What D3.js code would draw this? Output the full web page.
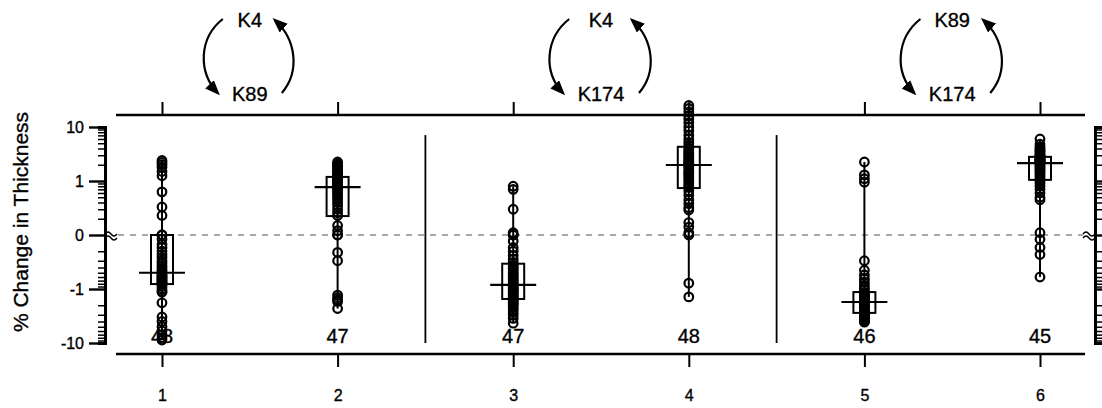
<!DOCTYPE html>
<html>
<head>
<meta charset="utf-8">
<script src="https://d3js.org/d3.v7.min.js"></script>
<style>
  body { margin: 0; background: #fff; }
  svg text { font-family: "Liberation Sans", Arial, Helvetica, sans-serif; fill: #000;
             stroke: #000; stroke-width: 0.35px; }
</style>
</head>
<body>
<div id="chart"></div>
<script>
// groups along the x axis and n per group
const groups = [1, 2, 3, 4, 5, 6];
const counts = [48, 47, 47, 48, 46, 45];

// % change in thickness
const g1 = [2.4, 2.2, 2.0, 1.8, 1.5, 1.25, 0.63, 0.33, 0.23, 0.1, 0.05, 0,
  -0.12, -0.15, -0.17, -0.2, -0.23, -0.26, -0.3, -0.33, -0.37, -0.41, -0.45, -0.48,
  -0.52, -0.55, -0.58, -0.6, -0.63, -0.66, -0.69, -0.72, -0.75, -0.78, -0.8, -0.82,
  -0.9, -1.0, -1.1, -1.15, -1.8, -3.3, -4.0, -5.0, -6.0, -7.0, -8.0, -8.8];
const g2 = [2.25, 2.1, 2.0, 1.9, 1.8, 1.7, 1.6, 1.5, 1.4, 1.35, 1.3, 1.22,
  1.15, 1.1, 1.05, 1.0, 0.97, 0.94, 0.9, 0.87, 0.84, 0.82, 0.8, 0.78,
  0.74, 0.7, 0.65, 0.6, 0.55, 0.5, 0.45, 0.4, 0.35, 0.3, 0.26, 0.23,
  0.15, 0.12, 0.1, 0.05, -0.21, -0.3, -1.3, -1.45, -1.6, -1.7, -2.3];
const g3 = [0.8, 0.7, 0.3, 0.11, 0.06, 0, -0.13, -0.17, -0.2, -0.24, -0.28, -0.32,
  -0.36, -0.39, -0.42, -0.46, -0.5, -0.54, -0.58, -0.62, -0.67, -0.72, -0.77, -0.82,
  -0.86, -0.9, -0.95, -1.0, -1.05, -1.1, -1.15, -1.22, -1.3, -1.38, -1.45, -1.5,
  -1.6, -1.7, -1.8, -1.9, -2.0, -2.2, -2.4, -2.7, -3.0, -3.5, -4.3];
const g4 = [25, 22, 19, 16, 14, 12, 10, 8.5, 7, 6, 5.2, 4.6,
  4.0, 3.7, 3.4, 3.2, 3.0, 2.8, 2.6, 2.45, 2.3, 2.2, 2.1, 2.0,
  1.9, 1.8, 1.65, 1.5, 1.4, 1.3, 1.2, 1.1, 1.0, 0.9, 0.82, 0.76,
  0.65, 0.55, 0.45, 0.38, 0.32, 0.29, 0.17, 0.14, 0.11, 0.1, -0.78, -1.4];
const g5 = [2.25, 1.3, 1.1, 0.95, -0.3, -0.45, -0.55, -0.65, -0.75, -0.85, -0.95, -1.05,
  -1.18, -1.22, -1.27, -1.32, -1.37, -1.42, -1.48, -1.54, -1.6, -1.66, -1.72,
  -1.8, -1.88, -1.95, -2.02, -2.1, -2.2, -2.3, -2.4, -2.5, -2.6, -2.7,
  -2.85, -2.95, -3.05, -3.15, -3.25, -3.35, -3.45, -3.55, -3.7, -3.85, -4.0, -4.1];
const g6 = [6.0, 4.8, 4.3, 4.0, 3.8, 3.6, 3.4, 3.2, 3.05, 2.95, 2.85,
  2.75, 2.7, 2.62, 2.55, 2.5, 2.45, 2.4, 2.35, 2.3, 2.25, 2.2,
  2.1, 2.0, 1.9, 1.8, 1.7, 1.6, 1.5, 1.4, 1.3, 1.2, 1.1,
  1.0, 0.9, 0.8, 0.7, 0.6, 0.5, 0.45, 0.11, -0.12, -0.17, -0.23, -0.6];
const groupValues = [g1, g2, g3, g4, g5, g6];

// box stats
const q3s = [0.1, 1.19, -0.34, 4.3, -1.14, 2.8];
const medians = [-0.5, 0.77, -0.84, 1.98, -1.74, 2.15];
const q1s = [-0.81, 0.224, -1.53, 0.74, -2.77, 1.05];

// y axis: broken log axis, 0 stands for |v| <= 0.1
const yTickValues = [-10, -1, 0, 1, 10];
const yTickLabels = ["-10", "-1", "0", "1", "10"];

// exchange annotations above each pair
const pairTop = ["K4", "K4", "K89"];
const pairBottom = ["K89", "K174", "K174"];

const W = 1102, H = 408;
const svg = d3.select("#chart").append("svg")
    .attr("width", W).attr("height", H);

const x = d3.scaleLinear().domain([1, 6]).range([162, 1040]);
const yLin = d3.scaleLinear().domain([-2, 2]).range([343, 127]);
// value -> transformed units (decades, 0.1 collapses onto 0)
const tf = v => {
    if (v === 0) return 0;
    const t = Math.log10(Math.abs(v)) + 1;
    return Math.sign(v) * Math.max(0, t);
};
const y = v => yLin(tf(v));

const frameTop = 115, frameBottom = 354, frameLeft = 116, frameRight = 1085;
const axisL = 105, axisR = 1095;

// minor ticks (log) for both sides of zero
const minor = [];
[0.1, 1].forEach(dec => {
    for (let k = 2; k <= 9; k++) { minor.push(k * dec); minor.push(-k * dec); }
});

// ---- left axis
const gL = svg.append("g").attr("transform", `translate(${axisL},0)`);
gL.call(d3.axisLeft(yLin).tickSizeOuter(0).tickSize(7)
        .tickValues(minor.map(tf)).tickFormat(""))
    .call(g => g.select(".domain").attr("stroke-width", 3))
    .call(g => g.selectAll(".tick line").attr("stroke-width", 1.5));
gL.append("g")
    .call(d3.axisLeft(yLin).tickSizeOuter(0).tickSize(16).tickPadding(5)
        .tickValues(yTickValues.map(tf))
        .tickFormat((d, i) => yTickLabels[i]))
    .call(g => g.select(".domain").remove())
    .call(g => g.selectAll(".tick line").attr("stroke-width", 2.4))
    .call(g => g.selectAll(".tick text").style("font-size", "16px"));

// ---- right axis (mirrored, runs off the edge)
const gR = svg.append("g").attr("transform", `translate(${axisR},0)`);
gR.call(d3.axisRight(yLin).tickSizeOuter(0).tickSize(7)
        .tickValues(minor.map(tf)).tickFormat(""))
    .call(g => g.select(".domain").attr("stroke-width", 3))
    .call(g => g.selectAll(".tick line").attr("stroke-width", 1.5));
gR.append("g")
    .call(d3.axisRight(yLin).tickSizeOuter(0).tickSize(16)
        .tickValues(yTickValues.map(tf)).tickFormat(""))
    .call(g => g.select(".domain").remove())
    .call(g => g.selectAll(".tick line").attr("stroke-width", 2.4));

// break marks at 0
function breakMark(cx) {
    const cy = yLin(0);
    [-2, 2].forEach(o => {
        svg.append("path")
            .attr("d", `M${cx - 6},${cy + o + 1} q3,-4 6,0 t6,0`)
            .attr("fill", "none").attr("stroke", "#000").attr("stroke-width", 1.4);
    });
}
breakMark(axisL + 6);
breakMark(axisR - 6);

// ---- frame lines top & bottom with group ticks
svg.append("line").attr("x1", frameLeft).attr("x2", frameRight)
    .attr("y1", frameTop).attr("y2", frameTop)
    .attr("stroke", "#000").attr("stroke-width", 2.6);
svg.append("line").attr("x1", frameLeft).attr("x2", frameRight)
    .attr("y1", frameBottom).attr("y2", frameBottom)
    .attr("stroke", "#000").attr("stroke-width", 2.6);

svg.append("g").attr("transform", `translate(0,${frameTop})`)
    .call(d3.axisTop(x).tickValues(groups).tickSize(13).tickFormat(""))
    .call(g => g.select(".domain").remove())
    .call(g => g.selectAll(".tick line").attr("stroke-width", 2));

svg.append("g").attr("transform", `translate(0,${frameBottom})`)
    .call(d3.axisBottom(x).tickValues(groups).tickSize(13).tickPadding(23)
        .tickFormat(d3.format("d")))
    .call(g => g.select(".domain").remove())
    .call(g => g.selectAll(".tick line").attr("stroke-width", 2))
    .call(g => g.selectAll(".tick text").style("font-size", "16px"));

// separators between pairs
[2.5, 4.5].forEach(s => {
    svg.append("line").attr("x1", x(s)).attr("x2", x(s))
        .attr("y1", yLin(1.85)).attr("y2", yLin(-2))
        .attr("stroke", "#000").attr("stroke-width", 1.8);
});

// zero reference
svg.append("line").attr("x1", frameLeft + 2).attr("x2", axisR - 12)
    .attr("y1", yLin(0)).attr("y2", yLin(0))
    .attr("stroke", "#555").attr("stroke-width", 1)
    .attr("stroke-dasharray", "6,6");

// y title
svg.append("text")
    .attr("transform", `translate(28,222) rotate(-90)`)
    .attr("text-anchor", "middle")
    .style("font-size", "21px")
    .text("% Change in Thickness");

// ---- boxes and points
groups.forEach((g, i) => {
    const vals = groupValues[i];
    const cx = x(g);
    const grp = svg.append("g");
    const ext = d3.extent(vals);
    grp.append("line").attr("x1", cx).attr("x2", cx)
        .attr("y1", y(ext[0])).attr("y2", y(ext[1]))
        .attr("stroke", "#000").attr("stroke-width", 2);
    grp.append("rect")
        .attr("x", cx - 11).attr("width", 22)
        .attr("y", y(q3s[i])).attr("height", y(q1s[i]) - y(q3s[i]))
        .attr("fill", "none").attr("stroke", "#000").attr("stroke-width", 2);
    grp.selectAll("circle").data(vals).join("circle")
        .attr("cx", cx).attr("cy", d => y(d)).attr("r", 4.3)
        .attr("fill", "none").attr("stroke", "#000").attr("stroke-width", 2.2);
    grp.append("line").attr("x1", cx - 23).attr("x2", cx + 23)
        .attr("y1", y(medians[i])).attr("y2", y(medians[i]))
        .attr("stroke", "#000").attr("stroke-width", 2.2);
    svg.append("text")
        .attr("x", cx).attr("y", 343)
        .attr("text-anchor", "middle")
        .style("font-size", "20px")
        .text(counts[i]);
});

// ---- exchange annotations
const defs = svg.append("defs");
defs.append("marker").attr("id", "ah")
    .attr("viewBox", "0 -6 15 12").attr("refX", 12).attr("refY", 0)
    .attr("markerWidth", 15).attr("markerHeight", 12)
    .attr("markerUnits", "userSpaceOnUse").attr("orient", "auto")
    .append("path").attr("d", "M0,-6L15,0L0,6Z").attr("fill", "#000");

pairTop.forEach((lab, i) => {
    const cx = (x(groups[2 * i]) + x(groups[2 * i + 1])) / 2;
    const wide = pairBottom[i].length > 3 ? 6 : 0;
    svg.append("text").attr("x", cx).attr("y", 27)
        .attr("text-anchor", "middle").style("font-size", "20px").text(lab);
    svg.append("text").attr("x", cx).attr("y", 101)
        .attr("text-anchor", "middle").style("font-size", "20px").text(pairBottom[i]);
    const l0 = cx - 27 - wide * 0.8, l1 = cx - 32 - wide;
    svg.append("path")
        .attr("d", `M${l0},19 C${l0 - 24},38 ${l1 - 20},72 ${l1},93`)
        .attr("fill", "none").attr("stroke", "#000").attr("stroke-width", 2.2)
        .attr("marker-end", "url(#ah)");
    const r0 = cx + 32 + wide, r1 = cx + 25 + wide;
    svg.append("path")
        .attr("d", `M${r0},93 C${r0 + 18},72 ${r1 + 22},40 ${r1},20`)
        .attr("fill", "none").attr("stroke", "#000").attr("stroke-width", 2.2)
        .attr("marker-end", "url(#ah)");
});
</script>
</body>
</html>
